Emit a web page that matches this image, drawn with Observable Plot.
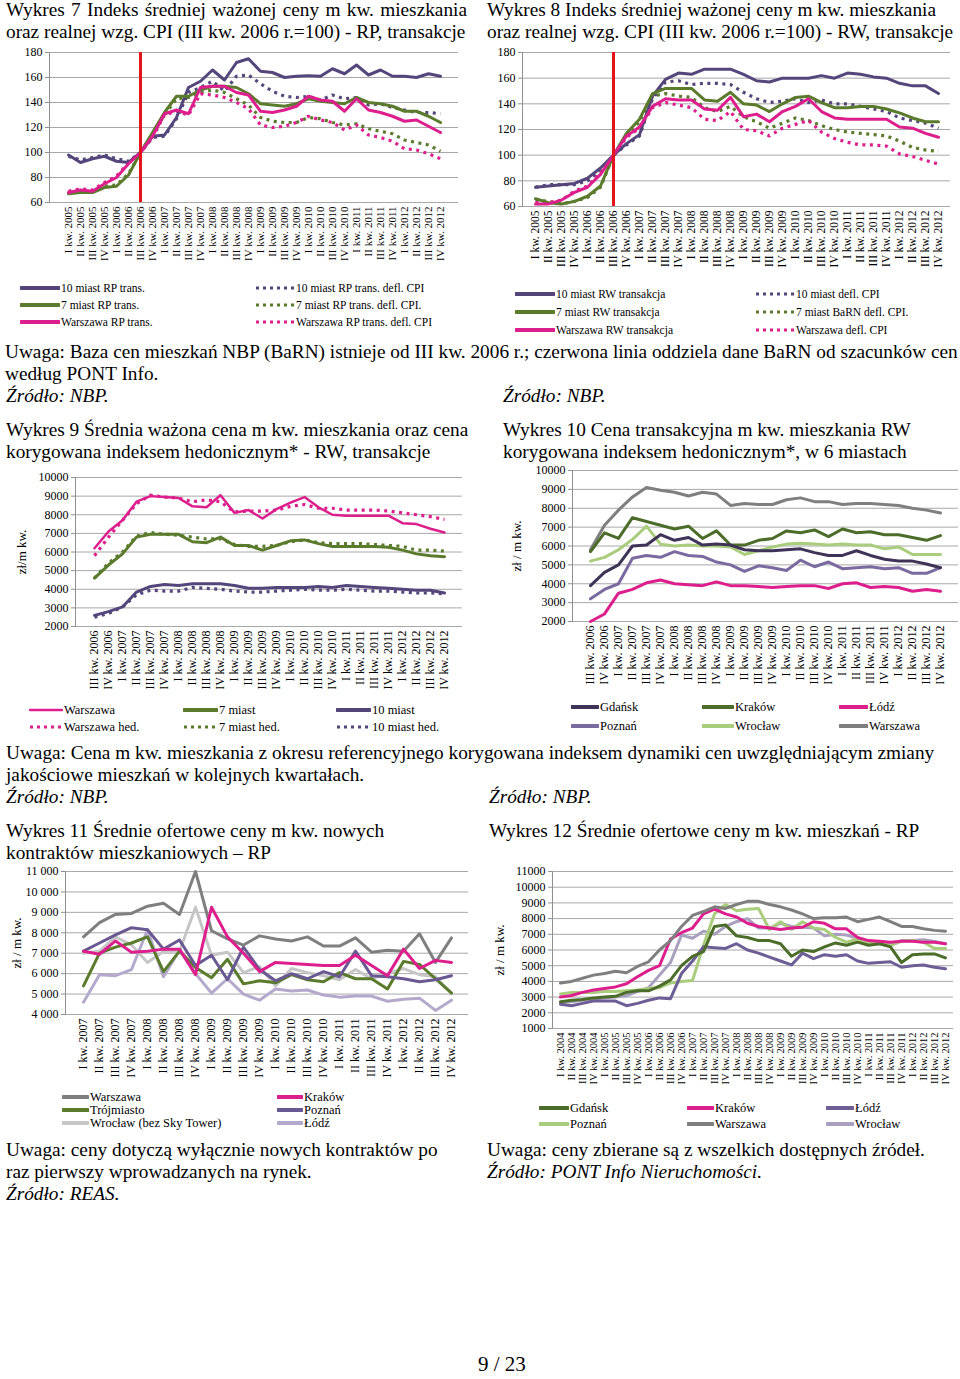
<!DOCTYPE html>
<html><head><meta charset="utf-8">
<script src="https://cdn.jsdelivr.net/npm/d3@7"></script>
<script src="https://cdn.jsdelivr.net/npm/@observablehq/plot@0.6"></script>
<style>
html,body{margin:0;padding:0;background:#fff;}
#page{position:relative;width:960px;height:1379px;overflow:hidden;font-family:"Liberation Serif","Times New Roman",serif;color:#000;}
.t{position:absolute;white-space:nowrap;font-size:19.3px;line-height:22px;}
.i{font-style:italic;}
.chart{position:absolute;}
.lg{position:absolute;white-space:nowrap;display:flex;align-items:center;}
.lg svg{display:block;}
</style></head>
<body><div id="page"></div>
<script>
// ---------- categories ----------
const quarters = ["I kw. 2004","II kw. 2004","III kw. 2004","IV kw. 2004",
"I kw. 2005","II kw. 2005","III kw. 2005","IV kw. 2005",
"I kw. 2006","II kw. 2006","III kw. 2006","IV kw. 2006",
"I kw. 2007","II kw. 2007","III kw. 2007","IV kw. 2007",
"I kw. 2008","II kw. 2008","III kw. 2008","IV kw. 2008",
"I kw. 2009","II kw. 2009","III kw. 2009","IV kw. 2009",
"I kw. 2010","II kw. 2010","III kw. 2010","IV kw. 2010",
"I kw. 2011","II kw. 2011","III kw. 2011","IV kw. 2011",
"I kw. 2012","II kw. 2012","III kw. 2012","IV kw. 2012"];
const cats78 = quarters.slice(4);   // I kw. 2005 - IV kw. 2012
const cats910 = quarters.slice(10); // III kw. 2006 - IV kw. 2012
const cats11 = quarters.slice(12);  // I kw. 2007 - IV kw. 2012
const cats12 = quarters;            // I kw. 2004 - IV kw. 2012
const baseQuarter = ["III kw. 2006"];

// ---------- Wykres 7 (RP, index) ----------
const rp10  = [98,92,95,97,93,92,100,113,114,128,152,157,166,158,172,175,165,164,160,161,161.5,161,167,163,170,162,166,161,161,160,163,161];
const rp10d = [97,94,96,98,95,93,100,112,113,127,148,152,157,149,161,162,155,149,145,144,145,142,146,143,144,138,139,136,134,132,132,131];
const rp7   = [67,68,68,72,73,82,100,116,132,145,145,150,153,153,152,147,139,138,137,139,143,141,140,139,144,140,139,137,133,133,129,124];
const rp7d  = [68,69,69,73,74,83,100,115,130,143,144,148,150,148,143,138,128,125,124,124,128,127,124,122,123,119,117,115,110,108,106,101];
const rpW   = [68,70,69,75,80,91,100,113,131,134,131,152,153,153,148,146,133,132,134,137,145,142,141,133,143,134,132,129,125,126,121,116];
const rpWd  = [69,71,70,76,81,92,100,112,130,133,130,147,146,144,140,135,122,120,121,124,129,126,124,118,122,114,112,109,103,102,99,95];

// ---------- Wykres 8 (RW, index) ----------
const rw10  = [75,76,77,78,82,90,100,109,116,146,159,164,163,167,167,167,163,158,157,160,160,160,162,160,164,163,161,160,156,154,154,148];
const rw10d = [75,77,77,77,80,88,100,108,115,144,157,158,155,156,156,155,149,144,141,142,144,141,143,140,140,138,136,134,129,127,125,121];
const rw7   = [66,63,62,64,68,76,100,117,128,148,152,152,152,143,142,149,140,139,134,140,145,146,141,137,137,138,138,136,133,129,126,126];
const rw7d  = [65,64,62,64,67,75,100,115,126,146,148,146,145,137,134,138,130,126,121,125,129,127,123,120,118,117,116,115,111,106,104,103];
const rwW   = [62,62,65,71,75,85,100,115,122,138,144,143,143,136,135,145,130,132,126,134,138,144,134,129,128,128,128,128,122,121,117,114];
const rwWd  = [63,63,65,72,76,86,100,114,121,137,141,139,137,128,127,134,120,119,115,121,124,127,118,113,110,108,108,107,101,99,96,93];

// ---------- Wykres 9 (RW, zł/m kw.) ----------
const w9W   = [6200,7100,7700,8700,9000,8950,8900,8450,8400,9050,8100,8250,7800,8300,8650,8950,8400,8000,7950,7950,7950,7950,7550,7500,7250,7050];
const w9Wh  = [5800,6800,7700,8600,9050,8950,8900,8700,8800,8700,8150,8200,8200,8250,8450,8550,8350,8350,8250,8250,8250,8200,8100,8000,7900,7750];
const w97   = [4600,5300,5900,6800,6950,6950,6950,6550,6500,6800,6350,6350,6100,6350,6600,6650,6450,6300,6300,6300,6300,6250,6100,5900,5800,5750];
const w97h  = [4600,5400,6000,6850,7050,6950,6900,6800,6700,6700,6400,6300,6300,6350,6550,6650,6500,6450,6450,6450,6400,6350,6300,6100,6100,6050];
const w910  = [2600,2800,3050,3850,4150,4250,4200,4300,4300,4300,4200,4050,4050,4100,4100,4100,4150,4100,4200,4150,4100,4050,4000,3950,3950,3800];
const w910h = [2500,2700,3050,3700,3950,3900,3900,4100,4050,4000,3900,3850,3850,3900,3950,4000,3950,3950,4000,3950,3900,3900,3850,3800,3800,3750];

// ---------- Wykres 10 (6 miast) ----------
const w10Gdansk   = [3900,4600,5000,6000,6050,6600,6300,6450,6050,6100,6050,5800,5750,5750,5800,5850,5650,5500,5500,5750,5500,5300,5200,5200,5050,4850];
const w10Krakow   = [5700,6700,6400,7500,7300,7100,6900,7050,6400,6800,6050,6050,6300,6400,6800,6700,6850,6500,6900,6700,6750,6600,6600,6450,6300,6550];
const w10Lodz     = [2000,2400,3500,3700,4050,4200,4000,3950,3900,4100,3900,3900,3850,3800,3850,3900,3900,3750,4000,4050,3800,3850,3800,3600,3700,3600];
const w10Poznan   = [3200,3700,4000,5350,5500,5400,5700,5500,5450,5150,5000,4650,4950,4850,4700,5250,4900,5150,4800,4850,4900,4800,4850,4550,4550,4850];
const w10Wroclaw  = [5200,5400,5800,6350,7050,6100,6000,6050,6000,6000,5950,5550,5750,5950,6100,6150,6100,6050,6100,6050,6050,5850,5950,5550,5550,5550];
const w10Warszawa = [5800,7100,7900,8600,9100,8950,8850,8650,8850,8750,8150,8250,8200,8200,8450,8550,8350,8350,8200,8250,8250,8200,8150,8000,7900,7750];

// ---------- Wykres 11 (REAS) ----------
const w11Warszawa = [7800,8500,8900,8950,9300,9450,8900,11000,8100,7700,7400,7850,7700,7600,7800,7350,7350,7750,7050,7150,7100,7950,6550,7750];
const w11Krakow   = [7100,6950,7600,7050,7100,7200,7200,5950,9250,7800,7000,6100,6550,6500,6450,6400,6400,6900,6400,5900,7200,6250,6650,6550];
const w11Trojm    = [5400,7000,7300,7500,7800,6100,7100,6300,5800,6700,5500,5650,5550,5950,5700,5600,6050,5750,5750,5250,6600,6450,5750,5050];
const w11Poznan   = [7100,7500,7900,8250,8150,7200,7650,6400,6900,5700,7300,6200,5650,6000,5750,6100,5850,7100,5900,5850,5750,5600,5700,5900];
const w11Wroclaw  = [7000,7100,7800,7400,6550,7100,7100,9250,6900,7050,6050,6350,5400,6250,6050,5900,5700,6200,5750,6000,6250,5950,5850,5050];
const w11Lodz     = [4600,5950,5900,6200,8150,5850,7150,6000,5050,5750,5000,4700,5250,5150,5200,4950,4850,4900,4900,4650,4750,4800,4200,4700];

// ---------- Wykres 12 (PONT Info) ----------
const w12Gdansk   = [2700,2800,2850,2950,3000,3050,3300,3400,3400,3700,4100,5000,5600,5900,7500,7600,6900,6800,6600,6600,6400,5600,6000,5900,6200,6450,6300,6500,6300,6400,6200,5200,5700,5750,5750,5500];
const w12Krakow   = [3000,3100,3300,3450,3550,3650,3850,4300,4700,5000,6700,7100,7400,8300,8600,8300,8100,7700,7500,7400,7300,7400,7450,7800,7700,7350,7350,6800,6600,6550,6500,6550,6550,6500,6500,6400];
const w12Lodz     = [2550,2450,2600,2750,2750,2750,2450,2600,2800,2950,2900,4500,5300,6200,6150,6100,6400,6000,5800,5550,5300,5050,5800,5450,5700,5600,5700,5300,5150,5200,5250,4900,5000,5050,4900,4800];
const w12Poznan   = [3200,3300,3300,3300,3350,3350,3400,3450,3550,3600,3900,4000,4050,6300,8300,8900,8500,8600,8650,7300,7800,7300,7800,7400,7300,6800,6500,6700,6400,6400,6300,6550,6600,6500,6100,6100];
const w12Warszawa = [3900,4000,4200,4400,4500,4650,4550,4950,5250,6000,6600,7500,8200,8450,8750,8650,8900,9100,9100,8900,8750,8550,8300,8000,8050,8050,8100,7800,7950,8100,7800,7500,7500,7350,7250,7200];
const w12Wroclaw  = [2650,2700,2800,2850,2950,3000,3100,3350,3600,4400,5200,6950,6750,7200,7000,7500,7800,8000,7400,7400,7700,7500,7450,7400,6900,7000,6950,6750,6550,6450,6300,6600,6600,6650,6550,6400];

// ---------- tick values ----------
const ticksIdx = [60,80,100,120,140,160,180];
const ticks9 = [2000,3000,4000,5000,6000,7000,8000,9000,10000];
const ticks11 = [4000,5000,6000,7000,8000,9000,10000,11000];
const ticks12 = [1000,2000,3000,4000,5000,6000,7000,8000,9000,10000,11000];

// ---------- colours ----------
const C = {
  purple:"#54457a", green:"#5a7a2c", magenta:"#dc1f8c", red:"#e3151b",
  gray:"#7f7f7f", lgray:"#c6c6c6", lpurple:"#b4a9cc", mpurple:"#7a6a9f",
  lgreen:"#a9cd7c", dgreen:"#4c6c29", dpurple:"#3f3358", grid:"#a8a8a8"
};

const page = document.getElementById("page");

function text(x, yc, str, opts={}) {
  const d = document.createElement("div");
  d.className = "t" + (opts.italic ? " i" : "");
  d.style.left = x + "px";
  if (opts.size) d.style.fontSize = opts.size + "px";
  d.style.top = (yc - 11) + "px";
  if (opts.spacing) d.style.wordSpacing = opts.spacing + "px";
  d.textContent = str;
  page.appendChild(d);
  return d;
}

function chart({left, top, width, height, mt, mr, mb, ml, cats, ydom, ticks, fmt, series, sep, ylabel, ylabelX, xfs, yfs}) {
  const marks = [Plot.ruleY(ticks, {stroke: C.grid, strokeWidth: 1})];
  for (const s of series) {
    marks.push(Plot.line(s.values, {
      x: (d, i) => cats[i], y: d => d,
      stroke: s.color, strokeWidth: s.dash ? 3.2 : (s.sw || 3),
      strokeDasharray: s.dash ? "3,4.5" : null,
      strokeLinejoin: "round", strokeLinecap: s.dash ? "butt" : "round"
    }));
  }
  if (sep) marks.push(Plot.ruleX(sep, {stroke: C.red, strokeWidth: 3, y1: ydom[0], y2: ydom[1]}));
  marks.push(Plot.frame({anchor: "left", stroke: "#909090"}));
  marks.push(Plot.axisY(ticks, {tickFormat: fmt || (d => String(d)), tickSize: 4, tickPadding: 3, fontSize: yfs || 12, stroke: "#909090"}));
  marks.push(Plot.axisX({tickRotate: -90, tickSize: 0, tickPadding: 4, fontSize: xfs || 11.5}));
  const svg = Plot.plot({
    width, height, marginTop: mt, marginRight: mr, marginBottom: mb, marginLeft: ml,
    style: {fontFamily: '"Liberation Serif","Times New Roman",serif', background: "transparent", color: "#000", overflow: "visible"},
    x: {type: "point", domain: cats, padding: 0.5, label: null},
    y: {domain: ydom, label: null},
    marks
  });
  svg.classList.add("chart");
  svg.style.left = left + "px";
  svg.style.top = top + "px";
  page.appendChild(svg);
  if (ylabel) {
    const d = document.createElement("div");
    d.className = "t";
    d.style.fontSize = "13px";
    d.style.left = (ylabelX) + "px";
    d.style.top = (top + mt + (height - mt - mb) / 2 - 11) + "px";
    d.style.transform = "translate(-50%,0) rotate(-90deg)";
    d.textContent = ylabel;
    page.appendChild(d);
  }
}

function legendItem(x, yc, label, color, dash, fs, sampleW, sw) {
  const d = document.createElement("div");
  d.className = "lg";
  d.style.left = x + "px";
  d.style.top = (yc - 9) + "px";
  d.style.height = "18px";
  d.style.fontSize = fs + "px";
  const w = sampleW;
  const ns = "http://www.w3.org/2000/svg";
  const s = document.createElementNS(ns, "svg");
  s.setAttribute("width", w + 2); s.setAttribute("height", 10);
  const l = document.createElementNS(ns, "line");
  l.setAttribute("x1", 1); l.setAttribute("x2", w + 1);
  l.setAttribute("y1", 5); l.setAttribute("y2", 5);
  l.setAttribute("stroke", color);
  l.setAttribute("stroke-width", dash ? 3 : (sw || 4));
  if (dash) l.setAttribute("stroke-dasharray", "3,4");
  else l.setAttribute("stroke-linecap", "round");
  s.appendChild(l);
  d.appendChild(s);
  const sp = document.createElement("span");
  sp.textContent = label;
  sp.style.marginLeft = "1px";
  d.appendChild(sp);
  page.appendChild(d);
}

// ===== Texts =====
text(6, 10, "Wykres 7 Indeks średniej ważonej ceny m kw. mieszkania", {spacing: 1.5});
text(6, 32, "oraz realnej wzg. CPI (III kw. 2006 r.=100) - RP, transakcje");
text(487, 10, "Wykres 8 Indeks średniej ważonej ceny m kw. mieszkania");
text(487, 32, "oraz realnej wzg. CPI (III kw. 2006 r.=100) - RW, transakcje");

text(5, 352, "Uwaga: Baza cen mieszkań NBP (BaRN) istnieje od III kw. 2006 r.; czerwona linia oddziela dane BaRN od szacunków cen");
text(5, 374, "według PONT Info.");
text(6, 396, "Źródło: NBP.", {italic: true});
text(503, 396, "Źródło: NBP.", {italic: true});

text(6, 430, "Wykres 9 Średnia ważona cena m kw. mieszkania oraz cena");
text(6, 452, "korygowana indeksem hedonicznym* - RW, transakcje");
text(503, 430, "Wykres 10 Cena transakcyjna m kw. mieszkania RW");
text(503, 452, "korygowana indeksem hedonicznym*, w 6 miastach");

text(6, 753, "Uwaga: Cena m kw. mieszkania z okresu referencyjnego korygowana indeksem dynamiki cen uwzględniającym zmiany");
text(6, 775, "jakościowe mieszkań w kolejnych kwartałach.");
text(6, 797, "Źródło: NBP.", {italic: true});
text(489, 797, "Źródło: NBP.", {italic: true});

text(6, 831, "Wykres 11 Średnie ofertowe ceny m kw. nowych");
text(6, 853, "kontraktów mieszkaniowych – RP");
text(489, 831, "Wykres 12 Średnie ofertowe ceny m kw. mieszkań - RP");

text(6, 1150, "Uwaga: ceny dotyczą wyłącznie nowych kontraktów po");
text(6, 1172, "raz pierwszy wprowadzanych na rynek.");
text(6, 1194, "Źródło: REAS.", {italic: true});
text(487, 1150, "Uwaga: ceny zbierane są z wszelkich dostępnych źródeł.");
text(487, 1172, "Źródło: PONT Info Nieruchomości.", {italic: true});

const pn = text(478, 1365, "9 / 23", {size: 21});
pn.style.lineHeight = "20px";

// ===== Charts =====
chart({left: 0, top: 40, width: 470, height: 230, mt: 12, mr: 12, mb: 68, ml: 49,
  cats: cats78, ydom: [60, 180], ticks: ticksIdx, sep: baseQuarter, xfs: 11,
  series: [
    {values: rp10d, color: C.purple, dash: true},
    {values: rp7d, color: C.green, dash: true},
    {values: rpWd, color: C.magenta, dash: true},
    {values: rp10, color: C.purple},
    {values: rp7, color: C.green},
    {values: rpW, color: C.magenta}
  ]});

chart({left: 480, top: 40, width: 480, height: 235, mt: 12, mr: 10, mb: 69, ml: 42,
  cats: cats78, ydom: [60, 180], ticks: ticksIdx, sep: baseQuarter,
  series: [
    {values: rw10d, color: C.purple, dash: true},
    {values: rw7d, color: C.green, dash: true},
    {values: rwWd, color: C.magenta, dash: true},
    {values: rw10, color: C.purple},
    {values: rw7, color: C.green},
    {values: rwW, color: C.magenta}
  ]});

chart({left: 0, top: 465, width: 475, height: 235, mt: 12, mr: 13, mb: 74, ml: 75,
  cats: cats910, ydom: [2000, 10000], ticks: ticks9, ylabel: "zł/m kw.", ylabelX: 22, xfs: 12,
  series: [
    {values: w9Wh, color: C.magenta, dash: true},
    {values: w97h, color: C.green, dash: true},
    {values: w910h, color: C.purple, dash: true},
    {values: w9W, color: C.magenta, sw: 2.5},
    {values: w97, color: C.green},
    {values: w910, color: C.purple}
  ]});

chart({left: 480, top: 460, width: 480, height: 240, mt: 10, mr: 2, mb: 79, ml: 92,
  cats: cats910, ydom: [2000, 10000], ticks: ticks9, ylabel: "zł / m kw.", ylabelX: 517, xfs: 12,
  series: [
    {values: w10Warszawa, color: C.gray},
    {values: w10Wroclaw, color: C.lgreen},
    {values: w10Poznan, color: C.mpurple},
    {values: w10Krakow, color: C.dgreen},
    {values: w10Gdansk, color: C.dpurple},
    {values: w10Lodz, color: C.magenta}
  ]});

const fmtSpace = d => d3.format(",")(d).replace(/,/g, " ");
chart({left: 0, top: 862, width: 475, height: 230, mt: 9, mr: 7, mb: 78, ml: 65,
  cats: cats11, ydom: [4000, 11000], ticks: ticks11, fmt: fmtSpace, ylabel: "zł / m kw.", ylabelX: 17, xfs: 12,
  series: [
    {values: w11Lodz, color: C.lpurple},
    {values: w11Wroclaw, color: C.lgray},
    {values: w11Trojm, color: C.green},
    {values: w11Poznan, color: "#6a5892"},
    {values: w11Warszawa, color: C.gray},
    {values: w11Krakow, color: C.magenta}
  ]});

chart({left: 480, top: 862, width: 480, height: 240, mt: 9, mr: 7, mb: 74, ml: 72,
  cats: cats12, ydom: [1000, 11000], ticks: ticks12, ylabel: "zł / m kw.", ylabelX: 500, xfs: 10.5,
  series: [
    {values: w12Wroclaw, color: "#a99fbf"},
    {values: w12Poznan, color: C.lgreen},
    {values: w12Lodz, color: "#6e5e96"},
    {values: w12Gdansk, color: C.dgreen},
    {values: w12Krakow, color: C.magenta},
    {values: w12Warszawa, color: C.gray}
  ]});

// ===== Legends =====
legendItem(20, 288, "10 miast RP trans.", C.purple, false, 11.5, 38);
legendItem(20, 305, "7 miast RP trans.", C.green, false, 11.5, 38);
legendItem(20, 322, "Warszawa RP trans.", C.magenta, false, 11.5, 38);
legendItem(255, 288, "10 miast RP trans. defl. CPI", C.purple, true, 11.5, 38);
legendItem(255, 305, "7 miast RP trans. defl. CPI.", C.green, true, 11.5, 38);
legendItem(255, 322, "Warszawa RP trans. defl. CPI", C.magenta, true, 11.5, 38);

legendItem(515, 294, "10 miast RW transakcja", C.purple, false, 11.5, 38);
legendItem(515, 312, "7 miast RW transakcja", C.green, false, 11.5, 38);
legendItem(515, 330, "Warszawa RW transakcja", C.magenta, false, 11.5, 38);
legendItem(755, 294, "10 miast defl. CPI", C.purple, true, 11.5, 38);
legendItem(755, 312, "7 miast BaRN defl. CPI.", C.green, true, 11.5, 38);
legendItem(755, 330, "Warszawa defl. CPI", C.magenta, true, 11.5, 38);

legendItem(29, 710, "Warszawa", C.magenta, false, 12.5, 32, 2.5);
legendItem(29, 727, "Warszawa hed.", C.magenta, true, 12.5, 32);
legendItem(183, 710, "7 miast", C.green, false, 12.5, 33);
legendItem(183, 727, "7 miast hed.", C.green, true, 12.5, 33);
legendItem(336, 710, "10 miast", C.purple, false, 12.5, 33);
legendItem(336, 727, "10 miast hed.", C.purple, true, 12.5, 33);

legendItem(571, 707, "Gdańsk", C.dpurple, false, 12.5, 26);
legendItem(571, 726, "Poznań", C.mpurple, false, 12.5, 26);
legendItem(702, 707, "Kraków", C.dgreen, false, 12.5, 30);
legendItem(702, 726, "Wrocław", C.lgreen, false, 12.5, 30);
legendItem(839, 707, "Łódź", C.magenta, false, 12.5, 27);
legendItem(839, 726, "Warszawa", C.gray, false, 12.5, 27);

legendItem(62, 1097, "Warszawa", C.gray, false, 12.5, 25);
legendItem(62, 1110, "Trójmiasto", C.green, false, 12.5, 25);
legendItem(62, 1123, "Wrocław (bez Sky Tower)", C.lgray, false, 12.5, 25);
legendItem(277, 1097, "Kraków", C.magenta, false, 12.5, 24);
legendItem(277, 1110, "Poznań", "#6a5892", false, 12.5, 24);
legendItem(277, 1123, "Łódź", C.lpurple, false, 12.5, 24);

legendItem(539, 1108, "Gdańsk", C.dgreen, false, 12.5, 28);
legendItem(539, 1124, "Poznań", C.lgreen, false, 12.5, 28);
legendItem(687, 1108, "Kraków", C.magenta, false, 12.5, 25);
legendItem(687, 1124, "Warszawa", C.gray, false, 12.5, 25);
legendItem(826, 1108, "Łódź", "#6e5e96", false, 12.5, 26);
legendItem(826, 1124, "Wrocław", "#a99fbf", false, 12.5, 26);
</script>
</body></html>
